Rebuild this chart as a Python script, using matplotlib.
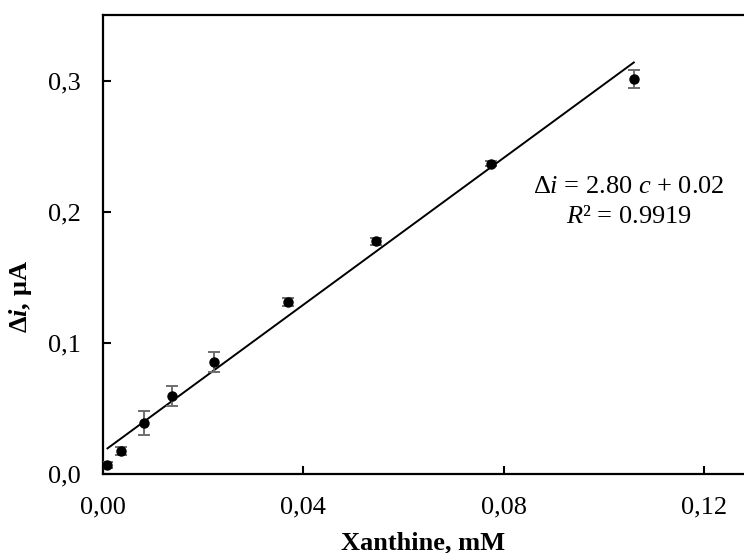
import numpy as np
import matplotlib
matplotlib.use('Agg')
import matplotlib.pyplot as plt

plt.rcParams['font.family'] = 'Liberation Serif'
plt.rcParams['mathtext.fontset'] = 'custom'
plt.rcParams['mathtext.rm'] = 'Liberation Serif'
plt.rcParams['mathtext.it'] = 'Liberation Serif:italic'
plt.rcParams['mathtext.bf'] = 'Liberation Serif:bold'
plt.rcParams['mathtext.bfit'] = 'Liberation Serif:bold:italic'

# xanthine concentration (mM) and current change (uA)
xantina = [0.0009, 0.0037, 0.0082, 0.0137, 0.0222, 0.0370, 0.0545, 0.0775, 0.1060]
delta_i = [0.0069, 0.0176, 0.0390, 0.0595, 0.0857, 0.1310, 0.1773, 0.2366, 0.3010]
erro = [0.002, 0.003, 0.009, 0.0073, 0.0076, 0.003, 0.003, 0.002, 0.007]

# linear fit as drawn
inclinacao = 2.80
intercepto = 0.017

x_ticks = [0.00, 0.04, 0.08, 0.12]
x_ticklabels = ['0,00', '0,04', '0,08', '0,12']
y_ticks = [0.0, 0.1, 0.2, 0.3]
y_ticklabels = ['0,0', '0,1', '0,2', '0,3']

fonte = 19

fig = plt.figure(figsize=(7.44, 5.53), dpi=100)
ax = fig.add_axes([0.1384, 0.1429, 0.8616, 0.8300])

x_linha = np.array([min(xantina), max(xantina)])
ax.plot(x_linha, inclinacao * x_linha + intercepto, color='black', lw=1.4, zorder=2)

ax.errorbar(xantina, delta_i, yerr=erro, fmt='none', ecolor='#6e6e6e',
            elinewidth=1.4, capsize=4.5, capthick=1.4, zorder=3)
ax.plot(xantina, delta_i, 'o', color='black', markersize=6.5, zorder=4)

ax.set_xlim(0, 0.128)
ax.set_ylim(0, 0.35)
ax.set_xticks(x_ticks)
ax.set_xticklabels(x_ticklabels)
ax.set_yticks(y_ticks)
ax.set_yticklabels(y_ticklabels)
ax.tick_params(direction='in', length=6, width=1.5, labelsize=fonte, pad=16)

for lado in ['left', 'bottom', 'top']:
    ax.spines[lado].set_linewidth(1.6)
ax.spines['right'].set_visible(False)

ax.set_xlabel('Xanthine, mM', fontsize=fonte, fontweight='bold')
ax.xaxis.set_label_coords(0.5, -0.125)
ax.set_ylabel('Δ$\\mathbfit{i}$, μA', fontsize=fonte, fontweight='bold')
ax.yaxis.set_label_coords(-0.108, 0.386)

ax.text(0.82, 0.625, 'Δ$\\mathit{i}$ = 2.80 $\\mathit{c}$ + 0.02', transform=ax.transAxes,
        ha='center', va='center', fontsize=fonte)
ax.text(0.82, 0.56, '$\\mathit{R}$² = 0.9919', transform=ax.transAxes,
        ha='center', va='center', fontsize=fonte)

fig.savefig('out.png', dpi=100)
